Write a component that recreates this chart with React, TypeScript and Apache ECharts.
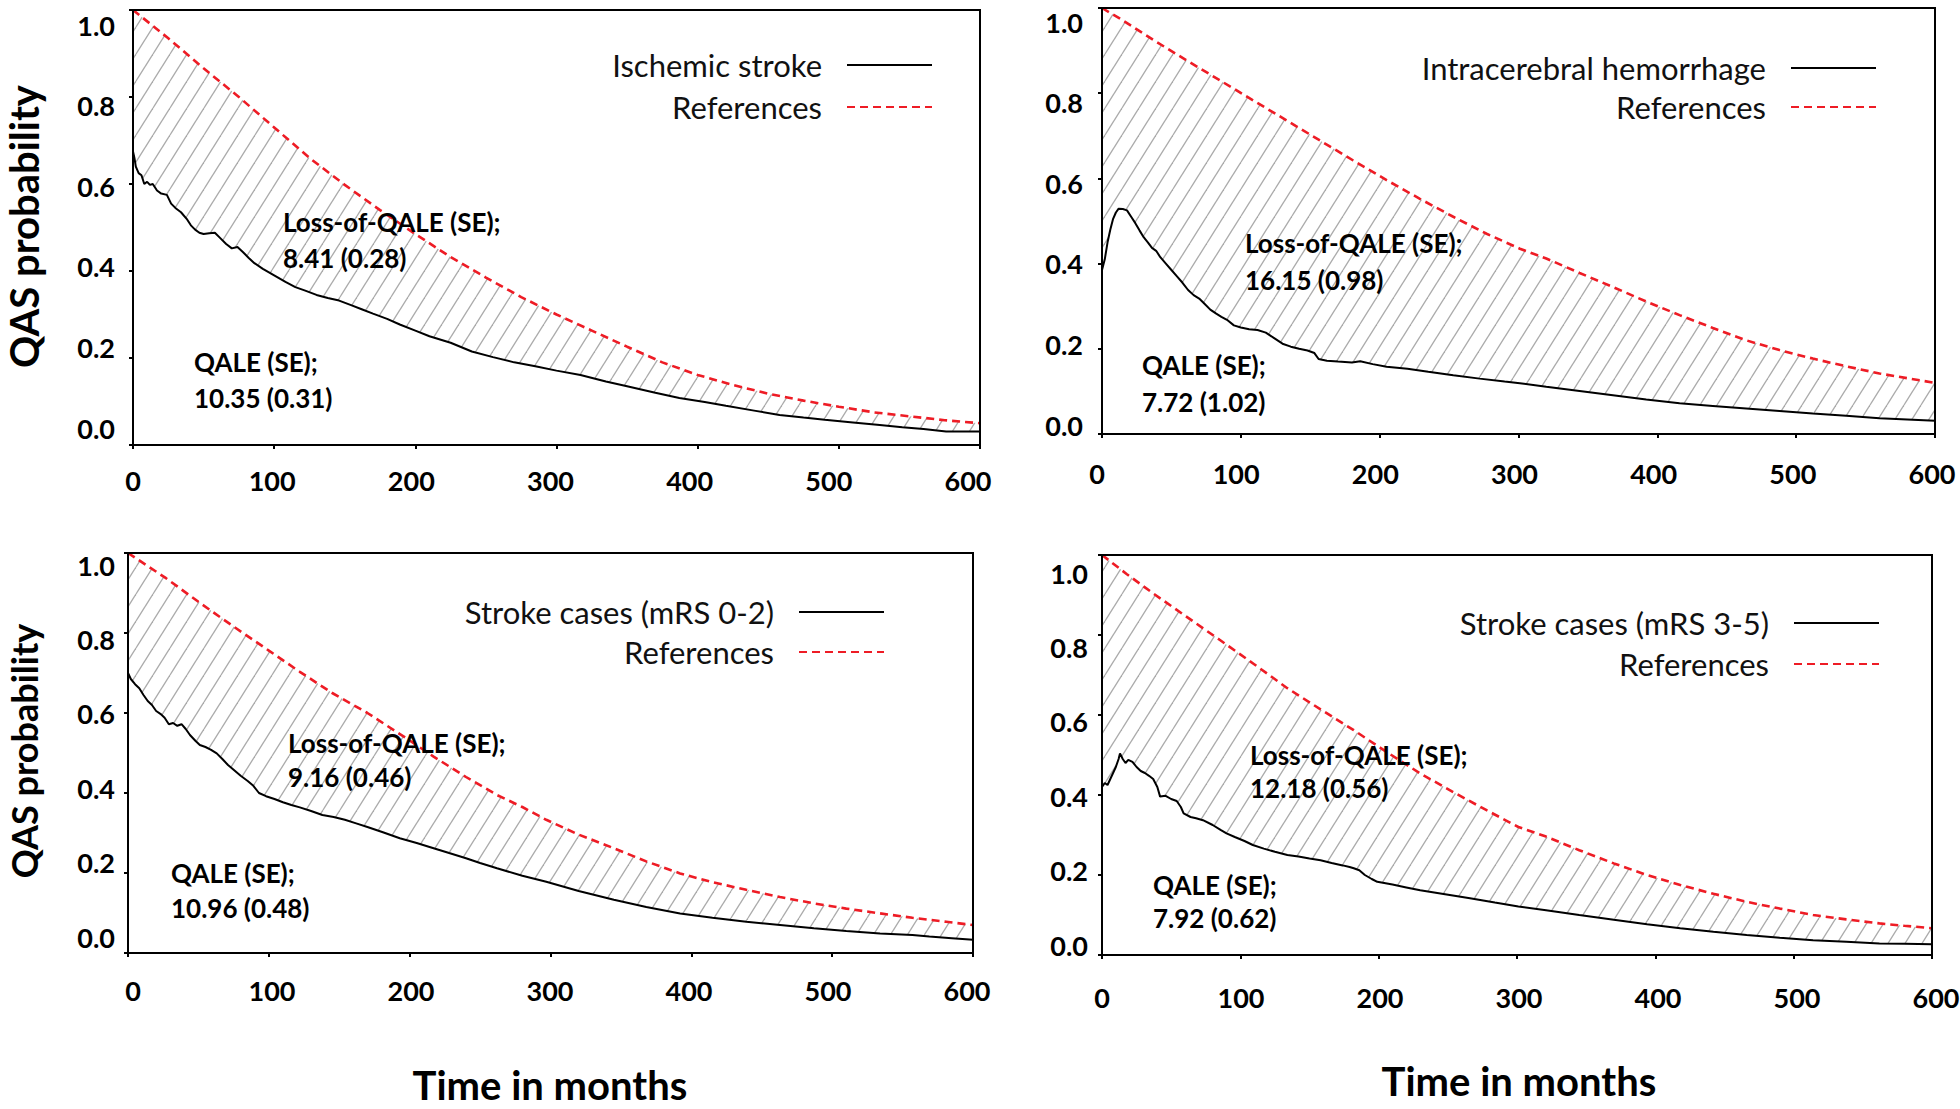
import React, { useEffect, useRef } from 'react';
import * as echarts from 'echarts';

// ---------- Data ----------
const panelNames = ['Ischemic stroke', 'Intracerebral hemorrhage', 'Stroke cases (mRS 0-2)', 'Stroke cases (mRS 3-5)'];
const referenceName = 'References';
const lossLabels = ['Loss-of-QALE (SE);\n8.41 (0.28)', 'Loss-of-QALE (SE);\n16.15 (0.98)', 'Loss-of-QALE (SE);\n9.16 (0.46)', 'Loss-of-QALE (SE);\n12.18 (0.56)'];
const qaleLabels = ['QALE (SE);\n10.35 (0.31)', 'QALE (SE);\n7.72 (1.02)', 'QALE (SE);\n10.96 (0.48)', 'QALE (SE);\n7.92 (0.62)'];
const xAxisName = 'Time in months';
const yAxisName = 'QAS probability';
const xRange = [0, 600];
const xStep = 100;
const yRange = [0, 1];
const yStep = 0.2;

// Panel 1: Ischemic stroke
const ischemicCases: [number, number][] = [
  [0, 0.675], [1, 0.66], [2, 0.64], [4, 0.625], [6, 0.62], [8, 0.6], [10, 0.605], [12, 0.598], [14, 0.6], [17, 0.585],
  [20, 0.578], [24, 0.575], [27, 0.555], [30, 0.545], [34, 0.535], [38, 0.52], [41, 0.505], [44, 0.495], [47, 0.488],
  [50, 0.485], [54, 0.487], [58, 0.488], [62, 0.475], [66, 0.462], [70, 0.452], [74, 0.455], [78, 0.443], [82, 0.43],
  [86, 0.418], [92, 0.405], [100, 0.39], [108, 0.375], [115, 0.363], [122, 0.355], [130, 0.345], [138, 0.338],
  [146, 0.332], [154, 0.322], [162, 0.312], [170, 0.302], [180, 0.29], [189, 0.277], [200, 0.263], [210, 0.25],
  [225, 0.235], [240, 0.215], [255, 0.202], [270, 0.19], [285, 0.181], [300, 0.171], [317, 0.161], [335, 0.146],
  [350, 0.135], [370, 0.12], [387, 0.108], [405, 0.099], [420, 0.09], [440, 0.079], [458, 0.069], [475, 0.063],
  [490, 0.058], [510, 0.052], [529, 0.046], [545, 0.041], [560, 0.037], [576, 0.031], [600, 0.031],
];
const ischemicReferences: [number, number][] = [
  [0, 1.0], [25, 0.935], [50, 0.866], [75, 0.8], [100, 0.73], [125, 0.66], [150, 0.598], [175, 0.54], [200, 0.485],
  [225, 0.432], [250, 0.385], [275, 0.34], [300, 0.3], [325, 0.263], [350, 0.226], [375, 0.19], [400, 0.161],
  [425, 0.138], [450, 0.118], [475, 0.102], [500, 0.088], [525, 0.075], [550, 0.066], [575, 0.057], [600, 0.05],
];

// Panel 2: Intracerebral hemorrhage
const ichCases: [number, number][] = [
  [0, 0.385], [2, 0.41], [4, 0.45], [6, 0.48], [8, 0.505], [10, 0.52], [12, 0.529], [15, 0.528], [18, 0.525],
  [21, 0.51], [24, 0.495], [27, 0.478], [30, 0.462], [33, 0.45], [36, 0.437], [39, 0.43], [42, 0.415], [46, 0.4],
  [50, 0.385], [54, 0.37], [58, 0.355], [62, 0.338], [66, 0.326], [70, 0.318], [74, 0.305], [78, 0.292], [82, 0.283],
  [86, 0.275], [90, 0.268], [95, 0.255], [100, 0.25], [106, 0.246], [112, 0.244], [118, 0.238], [124, 0.225],
  [130, 0.212], [136, 0.205], [142, 0.2], [148, 0.196], [153, 0.19], [156, 0.176], [162, 0.172], [170, 0.17],
  [180, 0.168], [186, 0.171], [195, 0.164], [205, 0.158], [220, 0.153], [235, 0.146], [253, 0.138], [272, 0.13],
  [290, 0.123], [301, 0.119], [320, 0.111], [344, 0.101], [368, 0.091], [392, 0.081], [416, 0.072], [440, 0.066],
  [464, 0.06], [488, 0.054], [512, 0.048], [536, 0.043], [560, 0.037], [580, 0.034], [600, 0.031],
];
const ichReferences: [number, number][] = [
  [0, 1.0], [13, 0.975], [37, 0.925], [61, 0.877], [85, 0.83], [109, 0.783], [133, 0.736], [157, 0.689], [181, 0.642],
  [205, 0.596], [229, 0.552], [253, 0.51], [277, 0.47], [301, 0.435], [320, 0.412], [344, 0.378], [368, 0.345],
  [392, 0.311], [416, 0.279], [440, 0.249], [464, 0.22], [488, 0.197], [512, 0.177], [536, 0.159], [560, 0.142],
  [580, 0.131], [600, 0.12],
];

// Panel 3: Stroke cases (mRS 0-2)
const mildCases: [number, number][] = [
  [0, 0.7], [2, 0.685], [5, 0.672], [8, 0.662], [11, 0.645], [14, 0.63], [17, 0.62], [20, 0.605], [23, 0.598],
  [26, 0.588], [29, 0.572], [32, 0.575], [35, 0.568], [38, 0.572], [41, 0.56], [44, 0.545], [48, 0.53], [51, 0.52],
  [55, 0.515], [59, 0.508], [63, 0.499], [67, 0.485], [71, 0.47], [75, 0.458], [80, 0.443], [85, 0.43], [89, 0.418],
  [93, 0.4], [98, 0.392], [104, 0.385], [110, 0.377], [116, 0.37], [122, 0.364], [130, 0.355], [138, 0.345],
  [146, 0.34], [154, 0.333], [162, 0.324], [170, 0.315], [181, 0.302], [193, 0.287], [205, 0.275], [217, 0.262],
  [228, 0.25], [240, 0.237], [250, 0.225], [262, 0.212], [280, 0.193], [297, 0.178], [320, 0.155], [345, 0.133],
  [368, 0.115], [392, 0.099], [415, 0.088], [439, 0.078], [463, 0.07], [487, 0.062], [510, 0.055], [534, 0.049],
  [557, 0.045], [569, 0.041], [585, 0.037], [600, 0.033],
];
const mildReferences: [number, number][] = [
  [0, 1.0], [27, 0.937], [50, 0.878], [75, 0.816], [100, 0.756], [122, 0.703], [145, 0.65], [170, 0.6], [195, 0.543],
  [217, 0.491], [240, 0.44], [262, 0.395], [280, 0.365], [297, 0.333], [320, 0.296], [345, 0.262], [368, 0.229],
  [392, 0.199], [415, 0.177], [439, 0.158], [463, 0.14], [487, 0.124], [510, 0.111], [534, 0.099], [557, 0.088],
  [581, 0.078], [600, 0.07],
];

// Panel 4: Stroke cases (mRS 3-5)
const severeCases: [number, number][] = [
  [0, 0.42], [2, 0.43], [4, 0.425], [6, 0.44], [8, 0.455], [10, 0.47], [12, 0.49], [13, 0.504], [15, 0.49],
  [17, 0.48], [19, 0.488], [22, 0.483], [25, 0.47], [28, 0.46], [31, 0.455], [34, 0.448], [37, 0.44], [40, 0.42],
  [42, 0.396], [46, 0.398], [50, 0.39], [54, 0.385], [57, 0.37], [59, 0.354], [64, 0.345], [68, 0.342], [73, 0.337],
  [80, 0.325], [86, 0.312], [90, 0.304], [96, 0.295], [103, 0.285], [109, 0.275], [117, 0.266], [125, 0.258],
  [134, 0.25], [142, 0.246], [150, 0.241], [158, 0.237], [166, 0.23], [174, 0.224], [179, 0.22], [182, 0.217],
  [186, 0.212], [190, 0.2], [195, 0.19], [199, 0.183], [210, 0.176], [220, 0.169], [230, 0.162], [248, 0.152],
  [266, 0.142], [284, 0.131], [301, 0.121], [321, 0.112], [345, 0.1], [370, 0.088], [394, 0.077], [418, 0.067],
  [442, 0.058], [466, 0.05], [490, 0.043], [514, 0.037], [538, 0.033], [562, 0.029], [580, 0.028], [600, 0.027],
];
const severeReferences: [number, number][] = [
  [0, 1.0], [18, 0.952], [37, 0.904], [61, 0.846], [85, 0.788], [110, 0.727], [134, 0.667], [158, 0.614],
  [182, 0.562], [206, 0.507], [230, 0.454], [254, 0.407], [278, 0.362], [301, 0.32], [321, 0.296], [345, 0.262],
  [370, 0.229], [394, 0.2], [418, 0.175], [442, 0.153], [466, 0.133], [490, 0.116], [514, 0.1], [538, 0.089],
  [562, 0.079], [580, 0.073], [600, 0.067],
];

const casesByPanel = [ischemicCases, ichCases, mildCases, severeCases];
const referencesByPanel = [ischemicReferences, ichReferences, mildReferences, severeReferences];

// ---------- Layout / style ----------
const FONT = 'Lato, "Open Sans", "Noto Sans", sans-serif';
const RED = '#ee1c25';
const layouts = [
  {
    grid: { left: 133, top: 10, width: 847, height: 435 },
    labelGrid: { left: 133, top: 25, width: 835, height: 403 },
    yMargin: 18, xMargin: 52, yName: true, yNameSize: 40, xName: false, xNameGap: 0,
    legend: { right: 1027, top: 47, itemGap: 6 },
    loss: { x: 283, y: 240, lh: 36 }, qale: { x: 194, y: 380, lh: 36 },
  },
  {
    grid: { left: 1102, top: 8, width: 833, height: 426 },
    labelGrid: { left: 1097, top: 22, width: 835, height: 403 },
    yMargin: 14, xMargin: 48, yName: false, yNameSize: 40, xName: false, xNameGap: 0,
    legend: { right: 83, top: 50, itemGap: 3 },
    loss: { x: 1245, y: 261, lh: 37 }, qale: { x: 1142, y: 383, lh: 37 },
  },
  {
    grid: { left: 128, top: 553, width: 845, height: 400 },
    labelGrid: { left: 133, top: 565, width: 834, height: 372 },
    yMargin: 18, xMargin: 53, yName: true, yNameSize: 36, xName: true, xNameGap: 148,
    legend: { right: 1075, top: 594, itemGap: 4 },
    loss: { x: 288, y: 760, lh: 34 }, qale: { x: 171, y: 890, lh: 35 },
  },
  {
    grid: { left: 1102, top: 555, width: 830, height: 400 },
    labelGrid: { left: 1102, top: 573, width: 834, height: 372 },
    yMargin: 14, xMargin: 52, yName: false, yNameSize: 36, xName: true, xNameGap: 136,
    legend: { right: 80, top: 605, itemGap: 5 },
    loss: { x: 1250, y: 771, lh: 33 }, qale: { x: 1153, y: 901, lh: 33 },
  },
];

function makeHatch(): { url: string; w: number; h: number } {
  const w = 17;
  const h = 27;
  const c = document.createElement('canvas');
  c.width = w;
  c.height = h;
  const ctx = c.getContext('2d');
  if (ctx) {
    ctx.strokeStyle = '#ababab';
    ctx.lineWidth = 1.3;
    for (const dx of [-w, 0, w]) {
      ctx.beginPath();
      ctx.moveTo(dx, h);
      ctx.lineTo(dx + w, 0);
      ctx.stroke();
    }
  }
  return { url: c.toDataURL(), w, h };
}

function buildOption() {
  const hatch = makeHatch();
  const grid: any[] = [];
  const xAxis: any[] = [];
  const yAxis: any[] = [];
  const series: any[] = [];
  const legend: any[] = [];
  const graphic: any[] = [];

  layouts.forEach((L) => {
    grid.push({ ...L.grid, show: true, borderColor: '#000', borderWidth: 2, backgroundColor: 'transparent', z: 10, outerBoundsMode: 'none', containLabel: false });
  });
  layouts.forEach((L) => {
    grid.push({ ...L.labelGrid, show: false, outerBoundsMode: 'none', containLabel: false });
  });

  // main axes (lines and ticks)
  layouts.forEach((L, i) => {
    xAxis.push({
      type: 'value', gridIndex: i, min: xRange[0], max: xRange[1], interval: xStep, z: 10,
      axisLine: { show: true, lineStyle: { color: '#000', width: 2 } },
      axisTick: { show: true, length: 4, lineStyle: { color: '#000', width: 2 } },
      axisLabel: { show: false }, splitLine: { show: false },
    });
    yAxis.push({
      type: 'value', gridIndex: i, min: yRange[0], max: yRange[1], interval: yStep, z: 10,
      axisLine: { show: true, lineStyle: { color: '#000', width: 2 } },
      axisTick: { show: true, length: 4, lineStyle: { color: '#000', width: 2 } },
      axisLabel: { show: false }, splitLine: { show: false },
    });
  });
  // label axes (tick labels and axis names)
  const labelText = { color: '#000', fontSize: 27, fontWeight: 'bold', fontFamily: FONT };
  const nameText = { color: '#000', fontSize: 40, fontWeight: 'bold', fontFamily: FONT, verticalAlign: 'middle' };
  layouts.forEach((L, i) => {
    xAxis.push({
      type: 'value', gridIndex: 4 + i, min: xRange[0], max: xRange[1], interval: xStep,
      axisLine: { show: false }, axisTick: { show: false }, splitLine: { show: false },
      axisLabel: { ...labelText, margin: L.xMargin, verticalAlign: 'middle' },
      name: L.xName ? xAxisName : '', nameLocation: 'middle', nameGap: L.xNameGap,
      nameTextStyle: nameText,
    });
    yAxis.push({
      type: 'value', gridIndex: 4 + i, min: yRange[0], max: yRange[1], interval: yStep,
      axisLine: { show: false }, axisTick: { show: false }, splitLine: { show: false },
      axisLabel: { ...labelText, margin: L.yMargin, formatter: (v: number) => v.toFixed(1) },
      name: L.yName ? yAxisName : '', nameLocation: 'middle', nameGap: 109,
      nameTextStyle: { ...nameText, fontSize: L.yNameSize },
    });
  });

  layouts.forEach((L, i) => {
    series.push({
      type: 'line', name: referenceName, xAxisIndex: i, yAxisIndex: i,
      data: referencesByPanel[i], symbol: 'none', showSymbol: false, z: 2,
      lineStyle: { color: RED, width: 2.6, type: [8, 5] },
      itemStyle: { color: RED },
      areaStyle: {
        color: { image: hatch.url, repeat: 'repeat', imageWidth: hatch.w, imageHeight: hatch.h },
        opacity: 1,
      },
    });
    series.push({
      type: 'line', name: panelNames[i], xAxisIndex: i, yAxisIndex: i,
      data: casesByPanel[i], symbol: 'none', showSymbol: false, z: 3,
      lineStyle: { color: '#000', width: 2 },
      itemStyle: { color: '#000' },
      areaStyle: { color: '#ffffff', opacity: 1 },
    });
    legend.push({
      data: [panelNames[i], referenceName],
      orient: 'vertical', align: 'right',
      right: L.legend.right, top: L.legend.top, itemGap: L.legend.itemGap,
      itemWidth: 85, itemHeight: 14, padding: 0,
      selectedMode: false,
      itemStyle: { opacity: 0, borderWidth: 0 },
      textStyle: { fontFamily: FONT, fontSize: 31, color: '#111', lineHeight: 36, padding: [0, 20, 0, 0] },
    });
    graphic.push({
      type: 'text', x: L.loss.x, y: L.loss.y, z: 100,
      style: { text: lossLabels[i], fontFamily: FONT, fontSize: 26, fontWeight: 'bold', fill: '#000', lineHeight: L.loss.lh, align: 'left', verticalAlign: 'middle' },
    });
    graphic.push({
      type: 'text', x: L.qale.x, y: L.qale.y, z: 100,
      style: { text: qaleLabels[i], fontFamily: FONT, fontSize: 26, fontWeight: 'bold', fill: '#000', lineHeight: L.qale.lh, align: 'left', verticalAlign: 'middle' },
    });
  });

  return {
    animation: false,
    backgroundColor: '#ffffff',
    grid, xAxis, yAxis, series, legend, graphic,
  };
}

export default function App() {
  const ref = useRef<HTMLDivElement>(null);
  useEffect(() => {
    if (!ref.current) return;
    const chart = echarts.init(ref.current, null, { renderer: 'svg' });
    chart.setOption(buildOption() as any);
    return () => chart.dispose();
  }, []);
  return (
    <div
      ref={ref}
      style={{ position: 'fixed', left: 0, top: 0, width: 1960, height: 1109, background: '#fff' }}
    />
  );
}
